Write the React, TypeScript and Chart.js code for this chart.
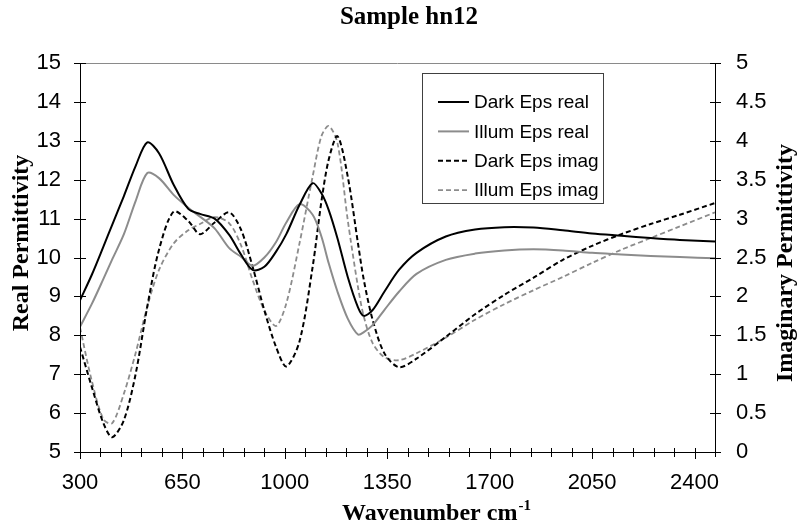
import React, { useEffect, useRef } from 'react';
import { Chart, registerables } from 'chart.js';

Chart.register(...registerables);

const TITLE = 'Sample hn12';
const X_TITLE = 'Wavenumber cm';
const X_TITLE_SUP = '-1';
const Y_TITLE = 'Real Permittivity';
const Y2_TITLE = 'Imaginary Permittivity';

const WAVENUMBERS = [300, 340, 380, 410, 450, 490, 530, 570, 620, 670, 710, 760, 810, 850, 890, 930, 970, 1005, 1050, 1095, 1125, 1150, 1180, 1215, 1250, 1270, 1300, 1340, 1390, 1450, 1550, 1650, 1750, 1850, 1950, 2050, 2150, 2250, 2350, 2470];

const DARK_REAL = [8.9, 9.55, 10.28, 10.84, 11.58, 12.35, 12.96, 12.68, 11.87, 11.25, 11.12, 11.0, 10.58, 10.08, 9.68, 9.76, 10.15, 10.6, 11.35, 11.91, 11.65, 11.22, 10.49, 9.5, 8.72, 8.5, 8.65, 9.12, 9.68, 10.12, 10.54, 10.72, 10.78, 10.77, 10.7, 10.62, 10.56, 10.5, 10.45, 10.41];
const ILLUM_REAL = [8.22, 8.8, 9.45, 9.95, 10.6, 11.45, 12.17, 12.04, 11.61, 11.28, 11.05, 10.75, 10.24, 10.02, 9.79, 10.0, 10.4, 10.9, 11.37, 11.1, 10.54, 9.85, 9.12, 8.43, 8.02, 8.08, 8.26, 8.65, 9.12, 9.58, 9.94, 10.1, 10.18, 10.21, 10.18, 10.12, 10.08, 10.04, 10.01, 9.98];
const DARK_IMAG = [1.35, 0.84, 0.37, 0.19, 0.41, 1.0, 1.87, 2.6, 3.09, 2.97, 2.8, 2.95, 3.08, 2.86, 2.38, 1.82, 1.35, 1.1, 1.42, 2.38, 3.22, 3.76, 4.06, 3.54, 2.68, 2.21, 1.7, 1.27, 1.09, 1.2, 1.48, 1.77, 2.02, 2.24, 2.47, 2.65, 2.8, 2.93, 3.05, 3.2];
const ILLUM_IMAG = [1.6, 0.92, 0.42, 0.37, 0.75, 1.27, 1.87, 2.34, 2.68, 2.85, 2.93, 3.02, 2.94, 2.66, 2.21, 1.82, 1.62, 1.91, 2.68, 3.54, 4.06, 4.19, 3.97, 2.98, 2.12, 1.74, 1.4, 1.22, 1.18, 1.27, 1.47, 1.7, 1.9, 2.08, 2.25, 2.43, 2.6, 2.75, 2.9, 3.08];

const SERIES_NAMES = ['Dark Eps real', 'Illum Eps real', 'Dark Eps imag', 'Illum Eps imag'];

const X_MIN = 300;
const X_MAX = 2470;
const X_MINOR_STEP = 70;
const X_LABEL_STEP = 350;
const Y_MIN = 5;
const Y_MAX = 15;
const Y_STEP = 1;
const Y2_MIN = 0;
const Y2_MAX = 5;
const Y2_STEP = 0.5;

const X_TICKS: number[] = [];
for (let v = X_MIN; v <= X_MAX; v += X_MINOR_STEP) X_TICKS.push(v);

const toPoints = (vals: number[]) => vals.map((y, i) => ({ x: WAVENUMBERS[i], y }));

const decorPlugin = {
  id: 'decor',
  afterDraw(chart: any) {
    const ctx = chart.ctx as CanvasRenderingContext2D;
    const { left, right, top, bottom } = chart.chartArea;
    const sx = chart.scales.x;
    const sy = chart.scales.y;
    const sy2 = chart.scales.y2;
    ctx.save();
    ctx.strokeStyle = '#8a8a8a';
    ctx.lineWidth = 1;
    ctx.beginPath();
    ctx.moveTo(left, top + 0.5);
    ctx.lineTo(right, top + 0.5);
    ctx.stroke();
    ctx.strokeStyle = '#000';
    ctx.beginPath();
    ctx.moveTo(left + 0.5, top);
    ctx.lineTo(left + 0.5, bottom);
    ctx.moveTo(right + 0.5, top);
    ctx.lineTo(right + 0.5, bottom);
    ctx.moveTo(left, bottom + 0.5);
    ctx.lineTo(right + 1, bottom + 0.5);
    ctx.stroke();
    ctx.beginPath();
    sx.ticks.forEach((t: any) => {
      const px = Math.round(sx.getPixelForValue(t.value)) + 0.5;
      const major = (t.value - X_MIN) % X_LABEL_STEP === 0;
      ctx.moveTo(px, bottom - 4);
      ctx.lineTo(px, bottom + (major ? 7 : 5));
    });
    sy.ticks.forEach((t: any) => {
      const py = Math.round(sy.getPixelForValue(t.value)) + 0.5;
      ctx.moveTo(left - 6, py);
      ctx.lineTo(left + 6, py);
    });
    sy2.ticks.forEach((t: any) => {
      const py = Math.round(sy2.getPixelForValue(t.value)) + 0.5;
      ctx.moveTo(right - 5, py);
      ctx.lineTo(right + 6, py);
    });
    ctx.stroke();

    ctx.fillStyle = '#000';
    ctx.textAlign = 'center';
    ctx.textBaseline = 'middle';
    ctx.font = 'bold 25px "Liberation Serif"';
    ctx.fillText(TITLE, 409, 18);

    ctx.font = 'bold 24px "Liberation Serif"';
    ctx.save();
    ctx.translate(22, 243);
    ctx.rotate(-Math.PI / 2);
    ctx.fillText(Y_TITLE, 0, 0);
    ctx.restore();
    ctx.save();
    ctx.translate(786, 263);
    ctx.rotate(-Math.PI / 2);
    ctx.fillText(Y2_TITLE, 0, 0);
    ctx.restore();

    ctx.textBaseline = 'alphabetic';
    ctx.textAlign = 'left';
    ctx.font = 'bold 24px "Liberation Serif"';
    const w1 = ctx.measureText(X_TITLE).width;
    ctx.font = 'bold 15px "Liberation Serif"';
    const w2 = ctx.measureText(X_TITLE_SUP).width;
    const startX = 436 - (w1 + w2) / 2;
    ctx.font = 'bold 24px "Liberation Serif"';
    ctx.fillText(X_TITLE, startX, 520);
    ctx.font = 'bold 15px "Liberation Serif"';
    ctx.fillText(X_TITLE_SUP, startX + w1 + 1, 510);

    const lx = 422, ly = 73, lw = 181, lh = 130;
    ctx.fillStyle = '#fff';
    ctx.fillRect(lx, ly, lw, lh);
    ctx.strokeStyle = '#404040';
    ctx.lineWidth = 1;
    ctx.strokeRect(lx + 0.5, ly + 0.5, lw, lh);
    ctx.font = '19px "Liberation Sans"';
    ctx.textBaseline = 'middle';
    chart.data.datasets.forEach((ds: any, i: number) => {
      const cy = 102 + i * 29.4;
      ctx.save();
      ctx.strokeStyle = ds.borderColor;
      ctx.lineWidth = ds.borderWidth;
      ctx.setLineDash(ds.borderDash || []);
      ctx.beginPath();
      ctx.moveTo(438, cy);
      ctx.lineTo(469, cy);
      ctx.stroke();
      ctx.restore();
      ctx.fillStyle = '#000';
      ctx.fillText(ds.label, 474, cy + 1);
    });
    ctx.restore();
  },
};

export default function App() {
  const ref = useRef<HTMLCanvasElement>(null);
  useEffect(() => {
    document.body.style.margin = '0';
    const tickFont = { family: '"Liberation Sans"', size: 22 };
    const common = { pointRadius: 0, tension: 0.3, cubicInterpolationMode: 'default' };
    const chart = new Chart(ref.current!, {
      type: 'line',
      data: {
        datasets: [
          { label: SERIES_NAMES[0], data: toPoints(DARK_REAL), yAxisID: 'y', borderColor: '#000000', borderWidth: 2, borderDash: [], ...common },
          { label: SERIES_NAMES[1], data: toPoints(ILLUM_REAL), yAxisID: 'y', borderColor: '#8c8c8c', borderWidth: 2, borderDash: [], ...common },
          { label: SERIES_NAMES[2], data: toPoints(DARK_IMAG), yAxisID: 'y2', borderColor: '#000000', borderWidth: 2, borderDash: [5, 3], ...common },
          { label: SERIES_NAMES[3], data: toPoints(ILLUM_IMAG), yAxisID: 'y2', borderColor: '#8c8c8c', borderWidth: 1.8, borderDash: [5, 3], ...common },
        ],
      } as any,
      options: {
        responsive: false,
        animation: false,
        devicePixelRatio: 1,
        layout: { padding: { top: 63, left: 0, right: 0, bottom: 0 } },
        plugins: { legend: { display: false }, title: { display: false }, tooltip: { enabled: false } },
        scales: {
          x: {
            type: 'linear',
            position: 'bottom',
            min: X_MIN,
            max: X_MAX,
            afterBuildTicks: (s: any) => { s.ticks = X_TICKS.map((v) => ({ value: v })); },
            afterFit: (s: any) => { s.height = 73; },
            grid: { display: false, drawTicks: false },
            border: { display: false },
            ticks: {
              autoSkip: false,
              maxRotation: 0,
              padding: 18,
              color: '#000',
              font: tickFont,
              callback: (v: any) => ((Number(v) - X_MIN) % X_LABEL_STEP === 0 ? String(v) : ''),
            },
          },
          y: {
            position: 'left',
            min: Y_MIN,
            max: Y_MAX,
            afterFit: (s: any) => { s.width = 80; },
            grid: { display: false, drawTicks: false },
            border: { display: false },
            ticks: { stepSize: Y_STEP, padding: 19, color: '#000', font: tickFont, callback: (v: any) => String(v) },
          },
          y2: {
            position: 'right',
            min: Y2_MIN,
            max: Y2_MAX,
            afterFit: (s: any) => { s.width = 83; },
            grid: { display: false, drawTicks: false },
            border: { display: false },
            ticks: { stepSize: Y2_STEP, padding: 21, color: '#000', font: tickFont, callback: (v: any) => String(v) },
          },
        },
      } as any,
      plugins: [decorPlugin],
    });
    return () => chart.destroy();
  }, []);
  return (
    <div style={{ width: 798, height: 525 }}>
      <canvas ref={ref} width={798} height={525} style={{ display: 'block' }} />
    </div>
  );
}
